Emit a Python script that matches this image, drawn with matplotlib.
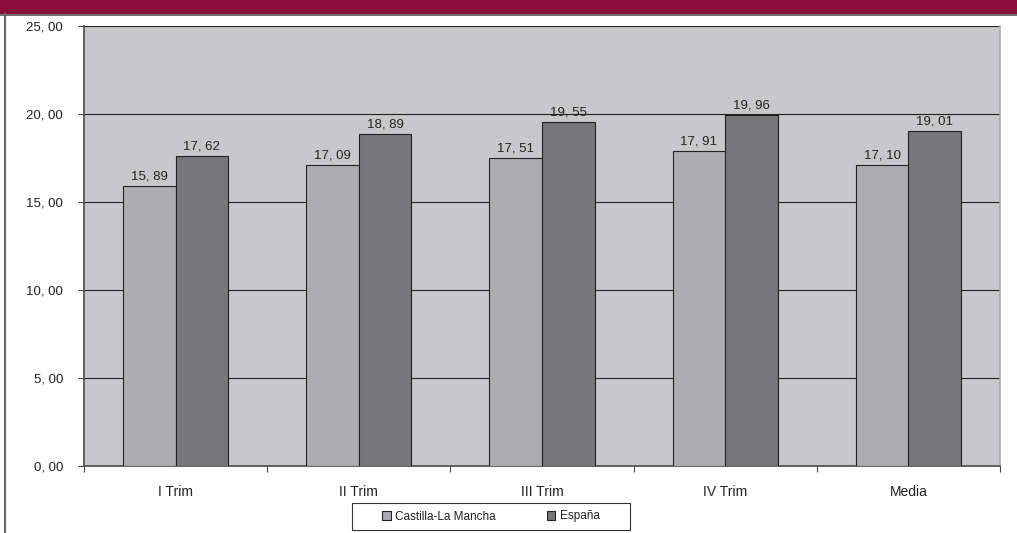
import matplotlib
matplotlib.use("Agg")
import matplotlib.pyplot as plt
import numpy as np
from matplotlib.patches import Rectangle
from matplotlib.lines import Line2D

plt.rcParams["font.family"] = ["Liberation Sans", "DejaVu Sans"]

categories = ["I Trim", "II Trim", "III Trim", "IV Trim", "Media"]
castilla = [15.89, 17.09, 17.51, 17.91, 17.10]
espana = [17.62, 18.89, 19.55, 19.96, 19.01]
series_names = ["Castilla-La Mancha", "España"]
y_ticks = [0, 5, 10, 15, 20, 25]


def fmt(v):
    return f"{v:.2f}".replace(".", ", ")


fig = plt.figure(figsize=(10.17, 5.33), dpi=100)
ax = fig.add_axes([84 / 1017, 1 - 466 / 533, 916 / 1017, 440 / 533])

# header band and frame lines
fig.patches.append(Rectangle((0, 1 - 14 / 533), 1, 14 / 533, transform=fig.transFigure,
                             facecolor="#8B0F3A", edgecolor="none", zorder=0))
fig.lines.append(Line2D([0, 1], [1 - 14.5 / 533] * 2, transform=fig.transFigure,
                        color="#555555", lw=1.2))
fig.lines.append(Line2D([5 / 1017] * 2, [0, 1 - 14 / 533], transform=fig.transFigure,
                        color="#666666", lw=1.5))

x = np.arange(len(categories))
w = 0.287
b1 = ax.bar(x - w / 2, castilla, w, color="#ADADB0", edgecolor="#222222", lw=0.8,
            label=series_names[0], zorder=3)
b2 = ax.bar(x + w / 2, espana, w, color="#77777A", edgecolor="#222222", lw=0.8,
            label=series_names[1], zorder=3)

for bars, vals in ((b1, castilla), (b2, espana)):
    for r, v in zip(bars, vals):
        ax.text(r.get_x() + r.get_width() / 2, v + 0.2, fmt(v), ha="center",
                va="bottom", fontsize=9.5, color="#222222")

ax.set_facecolor("#C8C8CA")
ax.set_xlim(-0.5, len(categories) - 0.5)
ax.set_ylim(0, 25)
ax.set_yticks(y_ticks)
ax.set_yticklabels([fmt(t) for t in y_ticks], fontsize=9.5, color="#222222")
ax.yaxis.grid(True, color="#222222", lw=0.8, zorder=1)
ax.set_axisbelow(True)

ax.set_xticks(np.arange(len(categories) + 1) - 0.5)
ax.set_xticklabels([])
ax.set_xticks(x, minor=True)
ax.set_xticklabels(categories, minor=True, fontsize=10, color="#222222")
ax.tick_params(axis="x", which="minor", length=0, pad=14)
ax.tick_params(axis="x", which="major", length=4, direction="out", color="#444444")
ax.tick_params(axis="y", length=4, direction="out", color="#444444", pad=11)

for s in ("left", "bottom"):
    ax.spines[s].set_color("#555555")
    ax.spines[s].set_linewidth(1.3)
ax.spines["top"].set_visible(False)
ax.spines["right"].set_color("#AAAAAA")
ax.spines["right"].set_linewidth(1.2)

# legend box drawn separately so it can be wider than the entries
fig.patches.append(Rectangle((352 / 1017, 1 - 530 / 533), 278 / 1017, 27 / 533,
                             transform=fig.transFigure, facecolor="white",
                             edgecolor="#333333", lw=0.8, zorder=2))
leg = fig.legend(loc="center", bbox_to_anchor=(491 / 1017, 1 - 516.5 / 533), ncol=2,
                 fontsize=8.5, frameon=False, handlelength=0.7, handleheight=0.7,
                 handletextpad=0.4, columnspacing=4.3, borderpad=0, borderaxespad=0)
for t in leg.get_texts():
    t.set_color("#222222")

fig.savefig("out.png", dpi=100)
